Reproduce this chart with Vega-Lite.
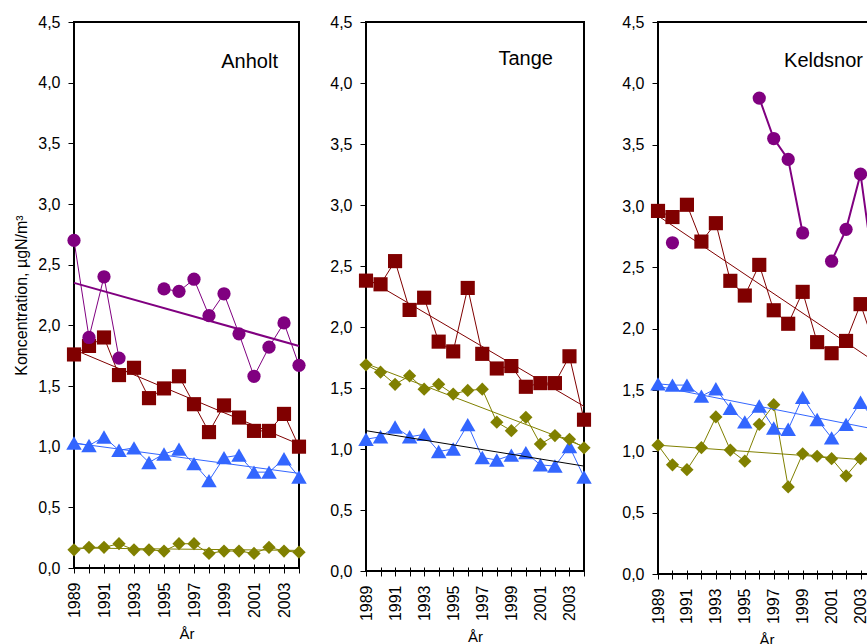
{
  "$schema": "https://vega.github.io/schema/vega-lite/v6.json",
  "background": "white",
  "padding": {"left": 12, "top": 13, "right": 0, "bottom": 0},
  "config": {
    "font": "Liberation Sans",
    "view": {"stroke": "black", "strokeWidth": 2, "fill": "white"},
    "title": {"font": "Liberation Sans", "fontSize": 20, "fontWeight": "normal", "color": "black", "anchor": "end", "frame": "group", "orient": "top", "baseline": "alphabetic"},
    "axis": {
      "grid": false,
      "labelFont": "Liberation Sans",
      "titleFont": "Liberation Sans",
      "labelFontSize": 16,
      "titleFontSize": 15,
      "titleFontWeight": "normal",
      "labelColor": "black",
      "titleColor": "black",
      "tickColor": "black",
      "tickWidth": 1
    }
  },
  "datasets": {
    "obs": [
      {"site": "Anholt", "series": "NH4", "year": 1989, "value": 1.76},
      {"site": "Anholt", "series": "NH4", "year": 1990, "value": 1.83},
      {"site": "Anholt", "series": "NH4", "year": 1991, "value": 1.90},
      {"site": "Anholt", "series": "NH4", "year": 1992, "value": 1.59},
      {"site": "Anholt", "series": "NH4", "year": 1993, "value": 1.65},
      {"site": "Anholt", "series": "NH4", "year": 1994, "value": 1.40},
      {"site": "Anholt", "series": "NH4", "year": 1995, "value": 1.48},
      {"site": "Anholt", "series": "NH4", "year": 1996, "value": 1.58},
      {"site": "Anholt", "series": "NH4", "year": 1997, "value": 1.35},
      {"site": "Anholt", "series": "NH4", "year": 1998, "value": 1.12},
      {"site": "Anholt", "series": "NH4", "year": 1999, "value": 1.34},
      {"site": "Anholt", "series": "NH4", "year": 2000, "value": 1.24},
      {"site": "Anholt", "series": "NH4", "year": 2001, "value": 1.13},
      {"site": "Anholt", "series": "NH4", "year": 2002, "value": 1.13},
      {"site": "Anholt", "series": "NH4", "year": 2003, "value": 1.27},
      {"site": "Anholt", "series": "NH4", "year": 2004, "value": 1.00},
      {"site": "Anholt", "series": "NO3", "year": 1989, "value": 1.03},
      {"site": "Anholt", "series": "NO3", "year": 1990, "value": 1.01},
      {"site": "Anholt", "series": "NO3", "year": 1991, "value": 1.08},
      {"site": "Anholt", "series": "NO3", "year": 1992, "value": 0.97},
      {"site": "Anholt", "series": "NO3", "year": 1993, "value": 0.99},
      {"site": "Anholt", "series": "NO3", "year": 1994, "value": 0.87},
      {"site": "Anholt", "series": "NO3", "year": 1995, "value": 0.94},
      {"site": "Anholt", "series": "NO3", "year": 1996, "value": 0.98},
      {"site": "Anholt", "series": "NO3", "year": 1997, "value": 0.86},
      {"site": "Anholt", "series": "NO3", "year": 1998, "value": 0.72},
      {"site": "Anholt", "series": "NO3", "year": 1999, "value": 0.91},
      {"site": "Anholt", "series": "NO3", "year": 2000, "value": 0.93},
      {"site": "Anholt", "series": "NO3", "year": 2001, "value": 0.79},
      {"site": "Anholt", "series": "NO3", "year": 2002, "value": 0.79},
      {"site": "Anholt", "series": "NO3", "year": 2003, "value": 0.90},
      {"site": "Anholt", "series": "NO3", "year": 2004, "value": 0.75},
      {"site": "Anholt", "series": "NH3", "year": 1989, "value": 0.15},
      {"site": "Anholt", "series": "NH3", "year": 1990, "value": 0.17},
      {"site": "Anholt", "series": "NH3", "year": 1991, "value": 0.17},
      {"site": "Anholt", "series": "NH3", "year": 1992, "value": 0.20},
      {"site": "Anholt", "series": "NH3", "year": 1993, "value": 0.15},
      {"site": "Anholt", "series": "NH3", "year": 1994, "value": 0.15},
      {"site": "Anholt", "series": "NH3", "year": 1995, "value": 0.14},
      {"site": "Anholt", "series": "NH3", "year": 1996, "value": 0.20},
      {"site": "Anholt", "series": "NH3", "year": 1997, "value": 0.20},
      {"site": "Anholt", "series": "NH3", "year": 1998, "value": 0.12},
      {"site": "Anholt", "series": "NH3", "year": 1999, "value": 0.14},
      {"site": "Anholt", "series": "NH3", "year": 2000, "value": 0.14},
      {"site": "Anholt", "series": "NH3", "year": 2001, "value": 0.12},
      {"site": "Anholt", "series": "NH3", "year": 2002, "value": 0.17},
      {"site": "Anholt", "series": "NH3", "year": 2003, "value": 0.14},
      {"site": "Anholt", "series": "NH3", "year": 2004, "value": 0.13},
      {"site": "Anholt", "series": "NO2", "year": 1989, "value": 2.70},
      {"site": "Anholt", "series": "NO2", "year": 1990, "value": 1.90},
      {"site": "Anholt", "series": "NO2", "year": 1991, "value": 2.40},
      {"site": "Anholt", "series": "NO2", "year": 1992, "value": 1.73},
      {"site": "Anholt", "series": "NO2", "year": 1993, "value": null},
      {"site": "Anholt", "series": "NO2", "year": 1994, "value": null},
      {"site": "Anholt", "series": "NO2", "year": 1995, "value": 2.30},
      {"site": "Anholt", "series": "NO2", "year": 1996, "value": 2.28},
      {"site": "Anholt", "series": "NO2", "year": 1997, "value": 2.38},
      {"site": "Anholt", "series": "NO2", "year": 1998, "value": 2.08},
      {"site": "Anholt", "series": "NO2", "year": 1999, "value": 2.26},
      {"site": "Anholt", "series": "NO2", "year": 2000, "value": 1.93},
      {"site": "Anholt", "series": "NO2", "year": 2001, "value": 1.58},
      {"site": "Anholt", "series": "NO2", "year": 2002, "value": 1.82},
      {"site": "Anholt", "series": "NO2", "year": 2003, "value": 2.02},
      {"site": "Anholt", "series": "NO2", "year": 2004, "value": 1.67},
      {"site": "Tange", "series": "NH4", "year": 1989, "value": 2.38},
      {"site": "Tange", "series": "NH4", "year": 1990, "value": 2.35},
      {"site": "Tange", "series": "NH4", "year": 1991, "value": 2.54},
      {"site": "Tange", "series": "NH4", "year": 1992, "value": 2.14},
      {"site": "Tange", "series": "NH4", "year": 1993, "value": 2.24},
      {"site": "Tange", "series": "NH4", "year": 1994, "value": 1.88},
      {"site": "Tange", "series": "NH4", "year": 1995, "value": 1.80},
      {"site": "Tange", "series": "NH4", "year": 1996, "value": 2.32},
      {"site": "Tange", "series": "NH4", "year": 1997, "value": 1.78},
      {"site": "Tange", "series": "NH4", "year": 1998, "value": 1.66},
      {"site": "Tange", "series": "NH4", "year": 1999, "value": 1.68},
      {"site": "Tange", "series": "NH4", "year": 2000, "value": 1.51},
      {"site": "Tange", "series": "NH4", "year": 2001, "value": 1.54},
      {"site": "Tange", "series": "NH4", "year": 2002, "value": 1.54},
      {"site": "Tange", "series": "NH4", "year": 2003, "value": 1.76},
      {"site": "Tange", "series": "NH4", "year": 2004, "value": 1.24},
      {"site": "Tange", "series": "NO3", "year": 1989, "value": 1.08},
      {"site": "Tange", "series": "NO3", "year": 1990, "value": 1.10},
      {"site": "Tange", "series": "NO3", "year": 1991, "value": 1.18},
      {"site": "Tange", "series": "NO3", "year": 1992, "value": 1.10},
      {"site": "Tange", "series": "NO3", "year": 1993, "value": 1.12},
      {"site": "Tange", "series": "NO3", "year": 1994, "value": 0.98},
      {"site": "Tange", "series": "NO3", "year": 1995, "value": 1.00},
      {"site": "Tange", "series": "NO3", "year": 1996, "value": 1.20},
      {"site": "Tange", "series": "NO3", "year": 1997, "value": 0.93},
      {"site": "Tange", "series": "NO3", "year": 1998, "value": 0.91},
      {"site": "Tange", "series": "NO3", "year": 1999, "value": 0.95},
      {"site": "Tange", "series": "NO3", "year": 2000, "value": 0.97},
      {"site": "Tange", "series": "NO3", "year": 2001, "value": 0.87},
      {"site": "Tange", "series": "NO3", "year": 2002, "value": 0.86},
      {"site": "Tange", "series": "NO3", "year": 2003, "value": 1.02},
      {"site": "Tange", "series": "NO3", "year": 2004, "value": 0.77},
      {"site": "Tange", "series": "NH3", "year": 1989, "value": 1.69},
      {"site": "Tange", "series": "NH3", "year": 1990, "value": 1.63},
      {"site": "Tange", "series": "NH3", "year": 1991, "value": 1.53},
      {"site": "Tange", "series": "NH3", "year": 1992, "value": 1.60},
      {"site": "Tange", "series": "NH3", "year": 1993, "value": 1.49},
      {"site": "Tange", "series": "NH3", "year": 1994, "value": 1.53},
      {"site": "Tange", "series": "NH3", "year": 1995, "value": 1.45},
      {"site": "Tange", "series": "NH3", "year": 1996, "value": 1.48},
      {"site": "Tange", "series": "NH3", "year": 1997, "value": 1.49},
      {"site": "Tange", "series": "NH3", "year": 1998, "value": 1.22},
      {"site": "Tange", "series": "NH3", "year": 1999, "value": 1.15},
      {"site": "Tange", "series": "NH3", "year": 2000, "value": 1.26},
      {"site": "Tange", "series": "NH3", "year": 2001, "value": 1.04},
      {"site": "Tange", "series": "NH3", "year": 2002, "value": 1.11},
      {"site": "Tange", "series": "NH3", "year": 2003, "value": 1.08},
      {"site": "Tange", "series": "NH3", "year": 2004, "value": 1.01},
      {"site": "Keldsnor", "series": "NH4", "year": 1989, "value": 2.96},
      {"site": "Keldsnor", "series": "NH4", "year": 1990, "value": 2.91},
      {"site": "Keldsnor", "series": "NH4", "year": 1991, "value": 3.01},
      {"site": "Keldsnor", "series": "NH4", "year": 1992, "value": 2.71},
      {"site": "Keldsnor", "series": "NH4", "year": 1993, "value": 2.86},
      {"site": "Keldsnor", "series": "NH4", "year": 1994, "value": 2.39},
      {"site": "Keldsnor", "series": "NH4", "year": 1995, "value": 2.27},
      {"site": "Keldsnor", "series": "NH4", "year": 1996, "value": 2.52},
      {"site": "Keldsnor", "series": "NH4", "year": 1997, "value": 2.15},
      {"site": "Keldsnor", "series": "NH4", "year": 1998, "value": 2.04},
      {"site": "Keldsnor", "series": "NH4", "year": 1999, "value": 2.30},
      {"site": "Keldsnor", "series": "NH4", "year": 2000, "value": 1.89},
      {"site": "Keldsnor", "series": "NH4", "year": 2001, "value": 1.80},
      {"site": "Keldsnor", "series": "NH4", "year": 2002, "value": 1.90},
      {"site": "Keldsnor", "series": "NH4", "year": 2003, "value": 2.20},
      {"site": "Keldsnor", "series": "NH4", "year": 2004, "value": 1.85},
      {"site": "Keldsnor", "series": "NO3", "year": 1989, "value": 1.55},
      {"site": "Keldsnor", "series": "NO3", "year": 1990, "value": 1.54},
      {"site": "Keldsnor", "series": "NO3", "year": 1991, "value": 1.54},
      {"site": "Keldsnor", "series": "NO3", "year": 1992, "value": 1.45},
      {"site": "Keldsnor", "series": "NO3", "year": 1993, "value": 1.51},
      {"site": "Keldsnor", "series": "NO3", "year": 1994, "value": 1.35},
      {"site": "Keldsnor", "series": "NO3", "year": 1995, "value": 1.24},
      {"site": "Keldsnor", "series": "NO3", "year": 1996, "value": 1.37},
      {"site": "Keldsnor", "series": "NO3", "year": 1997, "value": 1.19},
      {"site": "Keldsnor", "series": "NO3", "year": 1998, "value": 1.18},
      {"site": "Keldsnor", "series": "NO3", "year": 1999, "value": 1.44},
      {"site": "Keldsnor", "series": "NO3", "year": 2000, "value": 1.26},
      {"site": "Keldsnor", "series": "NO3", "year": 2001, "value": 1.11},
      {"site": "Keldsnor", "series": "NO3", "year": 2002, "value": 1.22},
      {"site": "Keldsnor", "series": "NO3", "year": 2003, "value": 1.40},
      {"site": "Keldsnor", "series": "NO3", "year": 2004, "value": 1.25},
      {"site": "Keldsnor", "series": "NH3", "year": 1989, "value": 1.05},
      {"site": "Keldsnor", "series": "NH3", "year": 1990, "value": 0.89},
      {"site": "Keldsnor", "series": "NH3", "year": 1991, "value": 0.85},
      {"site": "Keldsnor", "series": "NH3", "year": 1992, "value": 1.03},
      {"site": "Keldsnor", "series": "NH3", "year": 1993, "value": 1.28},
      {"site": "Keldsnor", "series": "NH3", "year": 1994, "value": 1.01},
      {"site": "Keldsnor", "series": "NH3", "year": 1995, "value": 0.92},
      {"site": "Keldsnor", "series": "NH3", "year": 1996, "value": 1.22},
      {"site": "Keldsnor", "series": "NH3", "year": 1997, "value": 1.38},
      {"site": "Keldsnor", "series": "NH3", "year": 1998, "value": 0.71},
      {"site": "Keldsnor", "series": "NH3", "year": 1999, "value": 0.98},
      {"site": "Keldsnor", "series": "NH3", "year": 2000, "value": 0.96},
      {"site": "Keldsnor", "series": "NH3", "year": 2001, "value": 0.94},
      {"site": "Keldsnor", "series": "NH3", "year": 2002, "value": 0.80},
      {"site": "Keldsnor", "series": "NH3", "year": 2003, "value": 0.94},
      {"site": "Keldsnor", "series": "NH3", "year": 2004, "value": 0.95},
      {"site": "Keldsnor", "series": "NO2", "year": 1989, "value": null},
      {"site": "Keldsnor", "series": "NO2", "year": 1990, "value": 2.70},
      {"site": "Keldsnor", "series": "NO2", "year": 1991, "value": null},
      {"site": "Keldsnor", "series": "NO2", "year": 1992, "value": null},
      {"site": "Keldsnor", "series": "NO2", "year": 1993, "value": null},
      {"site": "Keldsnor", "series": "NO2", "year": 1994, "value": null},
      {"site": "Keldsnor", "series": "NO2", "year": 1995, "value": null},
      {"site": "Keldsnor", "series": "NO2", "year": 1996, "value": 3.88},
      {"site": "Keldsnor", "series": "NO2", "year": 1997, "value": 3.55},
      {"site": "Keldsnor", "series": "NO2", "year": 1998, "value": 3.38},
      {"site": "Keldsnor", "series": "NO2", "year": 1999, "value": 2.78},
      {"site": "Keldsnor", "series": "NO2", "year": 2000, "value": null},
      {"site": "Keldsnor", "series": "NO2", "year": 2001, "value": 2.55},
      {"site": "Keldsnor", "series": "NO2", "year": 2002, "value": 2.81},
      {"site": "Keldsnor", "series": "NO2", "year": 2003, "value": 3.26},
      {"site": "Keldsnor", "series": "NO2", "year": 2004, "value": 2.40}
    ],
    "trend": [
      {"site": "Anholt", "series": "NH4", "year": 1989, "value": 1.80},
      {"site": "Anholt", "series": "NH4", "year": 2004, "value": 1.02},
      {"site": "Anholt", "series": "NO3", "year": 1989, "value": 1.03},
      {"site": "Anholt", "series": "NO3", "year": 2004, "value": 0.78},
      {"site": "Anholt", "series": "NH3", "year": 1989, "value": 0.165},
      {"site": "Anholt", "series": "NH3", "year": 2004, "value": 0.145},
      {"site": "Anholt", "series": "NO2", "year": 1989, "value": 2.35},
      {"site": "Anholt", "series": "NO2", "year": 2004, "value": 1.83},
      {"site": "Tange", "series": "NH4", "year": 1989, "value": 2.40},
      {"site": "Tange", "series": "NH4", "year": 2004, "value": 1.35},
      {"site": "Tange", "series": "NO3", "year": 1989, "value": 1.15},
      {"site": "Tange", "series": "NO3", "year": 2004, "value": 0.86},
      {"site": "Tange", "series": "NH3", "year": 1989, "value": 1.70},
      {"site": "Tange", "series": "NH3", "year": 2004, "value": 1.02},
      {"site": "Keldsnor", "series": "NH4", "year": 1989, "value": 2.92},
      {"site": "Keldsnor", "series": "NH4", "year": 2004, "value": 1.73},
      {"site": "Keldsnor", "series": "NO3", "year": 1989, "value": 1.53},
      {"site": "Keldsnor", "series": "NO3", "year": 2004, "value": 1.18},
      {"site": "Keldsnor", "series": "NH3", "year": 1989, "value": 1.05},
      {"site": "Keldsnor", "series": "NH3", "year": 2004, "value": 0.925}
    ]
  },
  "spacing": 20,
  "hconcat": [
    {
      "width": 225,
      "height": 546,
      "title": {"text": "Anholt", "offset": -58, "dx": -21},
      "encoding": {
        "x": {"field": "year", "type": "quantitative", "scale": {"domain": [1989, 2004], "nice": false, "zero": false},
          "axis": {"title": "År", "values": [1989, 1990, 1991, 1992, 1993, 1994, 1995, 1996, 1997, 1998, 1999, 2000, 2001, 2002, 2003, 2004], "format": "d", "labelExpr": "(datum.value - 1989) % 2 === 0 ? datum.label : ''", "labelAngle": -90, "labelAlign": "right", "labelBaseline": "middle", "labelFlush": false, "labelOverlap": false, "domain": false, "offset": -4, "tickSize": 9, "labelPadding": 9, "titlePadding": 9}},
        "y": {"field": "value", "type": "quantitative", "scale": {"domain": [0, 4.5], "nice": false},
          "axis": {"title": "Koncentration, µgN/m³", "titleFontSize": 16, "values": [0, 0.5, 1, 1.5, 2, 2.5, 3, 3.5, 4, 4.5], "labelExpr": "replace(format(datum.value, '.1f'), '.', ',')", "domain": false, "tickSize": 6, "labelPadding": 8, "titlePadding": 8}}
      },
      "layer": [
        {"data": {"name": "obs"}, "transform": [{"filter": "datum.site === 'Anholt'"}],
          "mark": {"type": "line", "strokeWidth": 1, "invalid": "break-paths-filter-domains"},
          "encoding": {"color": {"field": "series", "type": "nominal", "scale": {"domain": ["NO2", "NH4", "NO3", "NH3"], "range": ["#800080", "#800000", "#3366ff", "#808000"]}, "legend": null}}},
        {"data": {"name": "obs"}, "transform": [{"filter": "datum.site === 'Anholt' && isValid(datum.value)"}],
          "mark": {"type": "point", "filled": true, "opacity": 1},
          "encoding": {
            "color": {"field": "series", "type": "nominal", "legend": null},
            "shape": {"field": "series", "type": "nominal", "scale": {"domain": ["NO2", "NH4", "NO3", "NH3"], "range": ["circle", "square", "triangle-up", "diamond"]}, "legend": null},
            "size": {"condition": [{"test": "datum.series === 'NO3'", "value": 240}, {"test": "datum.series === 'NH4'", "value": 200}], "value": 175}}},
        {"data": {"name": "trend"}, "transform": [{"filter": "datum.site === 'Anholt'"}],
          "mark": {"type": "line"},
          "encoding": {
            "color": {"field": "series", "type": "nominal", "legend": null},
            "strokeWidth": {"condition": {"test": "datum.series === 'NO2'", "value": 2}, "value": 1}}}
      ]
    },
    {
      "spacing": 27,
      "hconcat": [
        {
          "width": 218,
          "height": 549,
          "title": {"text": "Tange", "offset": -55, "dx": -31},
          "encoding": {
            "x": {"field": "year", "type": "quantitative", "scale": {"domain": [1989, 2004], "nice": false, "zero": false},
              "axis": {"title": "År", "values": [1989, 1990, 1991, 1992, 1993, 1994, 1995, 1996, 1997, 1998, 1999, 2000, 2001, 2002, 2003, 2004], "format": "d", "labelExpr": "(datum.value - 1989) % 2 === 0 ? datum.label : ''", "labelAngle": -90, "labelAlign": "right", "labelBaseline": "middle", "labelFlush": false, "labelOverlap": false, "domain": false, "offset": -4, "tickSize": 9, "labelPadding": 9, "titlePadding": 9}},
            "y": {"field": "value", "type": "quantitative", "scale": {"domain": [0, 4.5], "nice": false},
              "axis": {"title": null, "values": [0, 0.5, 1, 1.5, 2, 2.5, 3, 3.5, 4, 4.5], "labelExpr": "replace(format(datum.value, '.1f'), '.', ',')", "domain": false, "tickSize": 6, "labelPadding": 8}}
          },
          "layer": [
            {"data": {"name": "obs"}, "transform": [{"filter": "datum.site === 'Tange'"}],
              "mark": {"type": "line", "strokeWidth": 1, "invalid": "break-paths-filter-domains"},
              "encoding": {"color": {"field": "series", "type": "nominal", "scale": {"domain": ["NO2", "NH4", "NO3", "NH3"], "range": ["#800080", "#800000", "#3366ff", "#808000"]}, "legend": null}}},
            {"data": {"name": "obs"}, "transform": [{"filter": "datum.site === 'Tange' && isValid(datum.value)"}],
              "mark": {"type": "point", "filled": true, "opacity": 1},
              "encoding": {
                "color": {"field": "series", "type": "nominal", "legend": null},
                "shape": {"field": "series", "type": "nominal", "scale": {"domain": ["NO2", "NH4", "NO3", "NH3"], "range": ["circle", "square", "triangle-up", "diamond"]}, "legend": null},
                "size": {"condition": [{"test": "datum.series === 'NO3'", "value": 240}, {"test": "datum.series === 'NH4'", "value": 200}], "value": 175}}},
            {"data": {"name": "trend"}, "transform": [{"filter": "datum.site === 'Tange' && datum.series !== 'NO3'"}],
              "mark": {"type": "line", "strokeWidth": 1},
              "encoding": {"color": {"field": "series", "type": "nominal", "legend": null}}},
            {"data": {"name": "trend"}, "transform": [{"filter": "datum.site === 'Tange' && datum.series === 'NO3'"}],
              "mark": {"type": "line", "strokeWidth": 1, "color": "black"}}
          ]
        },
        {
          "width": 217,
          "height": 552,
          "title": {"text": "Keldsnor", "offset": -57, "dx": -12},
          "encoding": {
            "x": {"field": "year", "type": "quantitative", "scale": {"domain": [1989, 2004], "nice": false, "zero": false},
              "axis": {"title": "År", "values": [1989, 1990, 1991, 1992, 1993, 1994, 1995, 1996, 1997, 1998, 1999, 2000, 2001, 2002, 2003, 2004], "format": "d", "labelExpr": "(datum.value - 1989) % 2 === 0 ? datum.label : ''", "labelAngle": -90, "labelAlign": "right", "labelBaseline": "middle", "labelFlush": false, "labelOverlap": false, "domain": false, "offset": -4, "tickSize": 9, "labelPadding": 9, "titlePadding": 9}},
            "y": {"field": "value", "type": "quantitative", "scale": {"domain": [0, 4.5], "nice": false},
              "axis": {"title": null, "values": [0, 0.5, 1, 1.5, 2, 2.5, 3, 3.5, 4, 4.5], "labelExpr": "replace(format(datum.value, '.1f'), '.', ',')", "domain": false, "tickSize": 6, "labelPadding": 8}}
          },
          "layer": [
            {"data": {"name": "obs"}, "transform": [{"filter": "datum.site === 'Keldsnor'"}],
              "mark": {"type": "line", "invalid": "break-paths-filter-domains"},
              "encoding": {
                "color": {"field": "series", "type": "nominal", "scale": {"domain": ["NO2", "NH4", "NO3", "NH3"], "range": ["#800080", "#800000", "#3366ff", "#808000"]}, "legend": null},
                "strokeWidth": {"condition": {"test": "datum.series === 'NO2'", "value": 2}, "value": 1}}},
            {"data": {"name": "obs"}, "transform": [{"filter": "datum.site === 'Keldsnor' && isValid(datum.value)"}],
              "mark": {"type": "point", "filled": true, "opacity": 1},
              "encoding": {
                "color": {"field": "series", "type": "nominal", "legend": null},
                "shape": {"field": "series", "type": "nominal", "scale": {"domain": ["NO2", "NH4", "NO3", "NH3"], "range": ["circle", "square", "triangle-up", "diamond"]}, "legend": null},
                "size": {"condition": [{"test": "datum.series === 'NO3'", "value": 240}, {"test": "datum.series === 'NH4'", "value": 200}], "value": 175}}},
            {"data": {"name": "trend"}, "transform": [{"filter": "datum.site === 'Keldsnor'"}],
              "mark": {"type": "line", "strokeWidth": 1},
              "encoding": {"color": {"field": "series", "type": "nominal", "legend": null}}}
          ]
        }
      ]
    }
  ]
}
